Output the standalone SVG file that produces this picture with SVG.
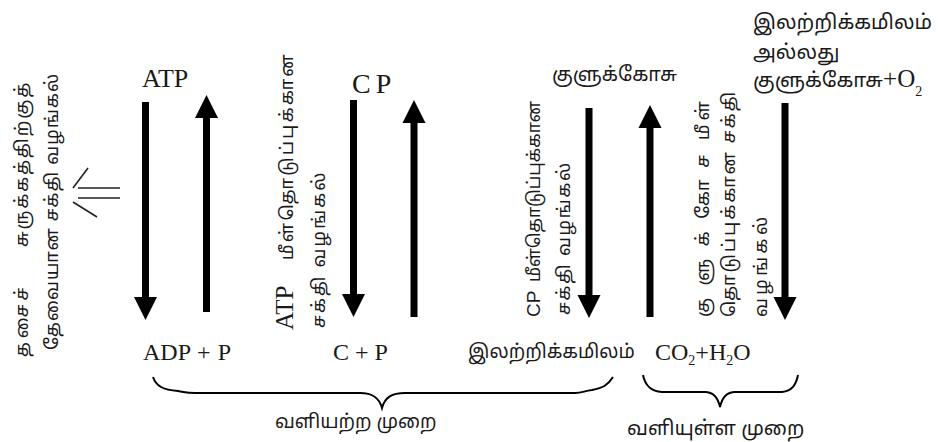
<svg xmlns="http://www.w3.org/2000/svg" width="939" height="442" viewBox="0 0 939 442">
<style>
.ta{font-family:"Noto Sans Tamil","Noto Serif Tamil","Lohit Tamil","Noto Sans",sans-serif;fill:#1a1a1a}
.h{font-size:19px}
.v{font-size:18px}
.lat{font-family:"Liberation Serif","Times New Roman",serif;fill:#1a1a1a}
.sans{font-family:"Liberation Sans",Arial,sans-serif;fill:#1a1a1a}
.shaft{stroke:#000;stroke-width:7;fill:none}
.brace{stroke:#000;stroke-width:2;fill:none}
</style>
<defs>
<marker id="ah" markerUnits="userSpaceOnUse" markerWidth="24" markerHeight="24" viewBox="0 -12 24 24" refX="0" refY="0" orient="auto">
<path d="M0,-11.5 L23,0 L0,11.5 z" fill="#000"/>
</marker>
</defs>

<g id="connectors">
<line class="shaft" x1="145.5" y1="102" x2="145.5" y2="297" marker-end="url(#ah)"/>
<line class="shaft" x1="206.5" y1="312" x2="206.5" y2="118" marker-end="url(#ah)"/>
<line class="shaft" x1="353.5" y1="100" x2="353.5" y2="294" marker-end="url(#ah)"/>
<line class="shaft" x1="414" y1="317" x2="414" y2="123" marker-end="url(#ah)"/>
<line class="shaft" x1="589" y1="108" x2="589" y2="295" marker-end="url(#ah)"/>
<line class="shaft" x1="650" y1="317" x2="650" y2="128" marker-end="url(#ah)"/>
<line class="shaft" x1="785" y1="103" x2="785" y2="297" marker-end="url(#ah)"/>
<path id="left-double-arrow" d="M88,168 L73,188 M73,202 L97,217 M78,188 L120,188 M78,198 L120,198" stroke="#222" stroke-width="1.6" fill="none"/>
</g>

<g id="braces">
<path class="brace" d="M153,377 C156,386 163,390 178,391 C185,392 186,393 195,393 L360,393 C372,393 379,397 382,408 C385,397 392,393 405,393 L575,393 C582,393 584,391 592,390 C603,388 608,385 613,377"/>
<path class="brace" d="M643,375 C645,385 650,391 662,392 L705,392 C714,392 718,398 720,407 C722,398 726,392 735,392 L782,392 C792,391 796,385 798,375"/>
</g>

<g id="left-label">
<text class="ta v" letter-spacing="4" transform="translate(28,357) rotate(-90)">தசைச்</text>
<text class="ta v" letter-spacing="2" transform="translate(28,247) rotate(-90)">சுருக்கத்திற்குத்</text>
<text class="ta v" letter-spacing="1.2" transform="translate(58,350) rotate(-90)">தேவையான சக்தி வழங்கல்</text>
</g>

<g id="atp">
<text class="lat" x="142" y="87" font-size="26">ATP</text>
</g>
<g id="adp">
<text class="lat" x="143" y="360" font-size="24" word-spacing="1">ADP + P</text>
</g>
<g id="atp-label">
<text class="lat" font-size="25" transform="translate(293,330) rotate(-90)">ATP</text>
<text class="ta v" letter-spacing="2.4" transform="translate(293,260) rotate(-90)">மீள்தொடுப்புக்கான</text>
<text class="ta v" letter-spacing="2.2" transform="translate(325,328) rotate(-90)">சக்தி வழங்கல்</text>
</g>
<g id="cp">
<text class="lat" x="352" y="93" font-size="28" letter-spacing="5">CP</text>
</g>
<g id="c-p">
<text class="lat" x="333" y="360" font-size="24">C + P</text>
</g>
<g id="cp-label">
<text class="sans" font-size="19" transform="translate(540,317) rotate(-90)">CP</text>
<text class="ta" font-size="17.5" transform="translate(540,282) rotate(-90)">மீள்தொடுப்புக்கான</text>
<text class="ta v" letter-spacing="1.8" transform="translate(570,315) rotate(-90)">சக்தி வழங்கல்</text>
</g>
<g id="glucose">
<text class="ta" font-size="19.6" x="552" y="81">குளுக்கோசு</text>
</g>
<g id="lactic">
<text class="ta h" x="468" y="358">இலற்றிக்கமிலம்</text>
</g>
<g id="glucose-label">
<text class="ta v" letter-spacing="12.5" transform="translate(709,317) rotate(-90)">குளுக்கோச</text>
<text class="ta v" letter-spacing="4" transform="translate(709,140) rotate(-90)">மீள்</text>
<text class="ta v" letter-spacing="2.2" transform="translate(735,317) rotate(-90)">தொடுப்புக்கான சக்தி</text>
<text class="ta v" letter-spacing="3.5" transform="translate(767,317) rotate(-90)">வழங்கல்</text>
</g>
<g id="co2">
<text class="lat" x="655" y="360" font-size="24">CO<tspan font-size="14" dy="5">2</tspan><tspan dy="-5">+H</tspan><tspan font-size="14" dy="5">2</tspan><tspan dy="-5">O</tspan></text>
</g>
<g id="top-right">
<text class="ta" font-size="20.4" x="753" y="29">இலற்றிக்கமிலம்</text>
<text class="ta" font-size="20.4" x="753" y="59">அல்லது</text>
<text class="ta" font-size="20.4" x="753" y="87">குளுக்கோசு<tspan class="lat" font-size="25">+O</tspan><tspan class="lat" font-size="14" dy="9">2</tspan></text>
</g>
<g id="labels">
<text class="ta h" x="275" y="428">வளியற்ற முறை</text>
<text class="ta" font-size="20" x="627" y="435">வளியுள்ள முறை</text>
</g>
</svg>
